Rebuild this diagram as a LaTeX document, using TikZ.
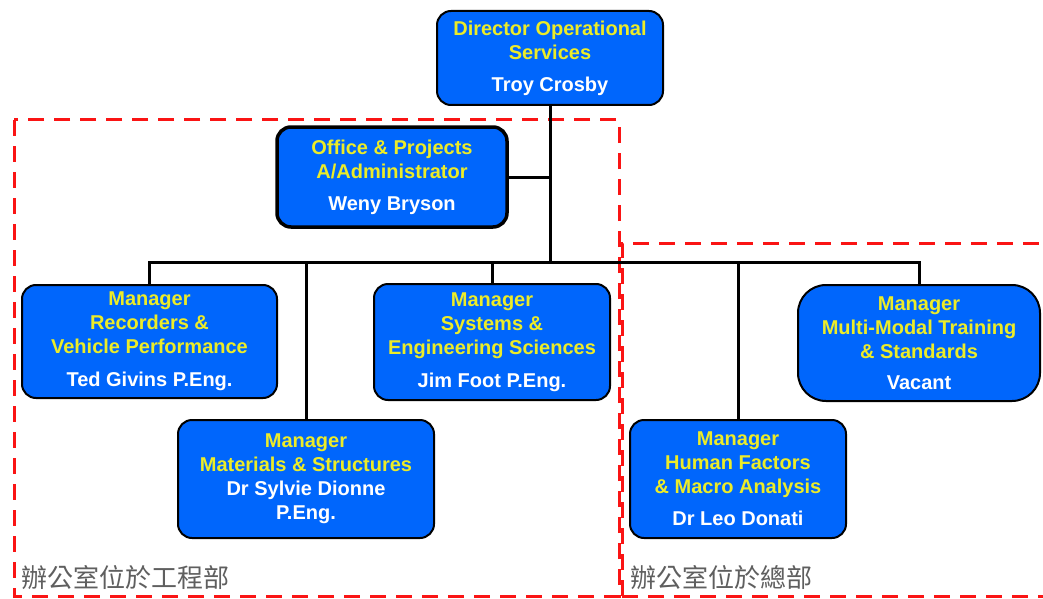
\documentclass[tikz,border=0pt]{standalone}
\usepackage{fontspec}
\setmainfont{Liberation Sans}
\newfontfamily\cjk{Noto Sans CJK TC}
\definecolor{boxblue}{RGB}{0,102,252}
\definecolor{ylw}{RGB}{236,236,40}
\definecolor{lblgray}{RGB}{95,95,95}
\definecolor{dred}{RGB}{250,20,20}
\newcommand{\yl}[1]{\textcolor{ylw}{#1}}
\newcommand{\wh}[1]{\textcolor{white}{#1}}
\begin{document}
\begin{tikzpicture}[x=1pt,y=-1pt,
  orgbox/.style={draw=black, line width=2pt, fill=boxblue, rounded corners=14pt,
    align=center, inner sep=0pt, font=\bfseries\fontsize{20}{24}\selectfont},
  conn/.style={draw=black, line width=3pt, line join=miter},
  region/.style={draw=dred, line width=3pt, dash pattern=on 16pt off 10pt},
  regionlbl/.style={anchor=west, text=lblgray, font=\cjk\fontsize{26}{28}\selectfont, inner sep=0pt}]
\clip (0,0) rectangle (1043,599);
\fill[white] (0,0) rectangle (1043,599);

% dashed regions
\draw[region] (14,120) rectangle (619,596);
\draw[region] (622,596) -- (622,243) -- (1060,243);
\draw[region] (622,596) -- (1060,596);

% boxes
\node[orgbox, minimum width=226pt, minimum height=94pt] (dir) at (550,58)
  {\yl{Director Operational}\\\yl{Services}\\[8pt]\wh{Troy Crosby}};
\node[orgbox, line width=3.5pt, minimum width=230pt, minimum height=100pt] (off) at (392,177)
  {\yl{Office \& Projects}\\\yl{A/Administrator}\\[8pt]\wh{Weny Bryson}};
\node[orgbox, minimum width=255pt, minimum height=113pt] (rec) at (149.5,341.5)
  {\yl{Manager}\\\yl{Recorders \&}\\\yl{Vehicle Performance}\\[9pt]\wh{Ted Givins P.Eng.}};
\node[orgbox, minimum width=236pt, minimum height=116pt] (sys) at (492,342)
  {\yl{Manager}\\\yl{Systems \&}\\\yl{Engineering Sciences}\\[9pt]\wh{Jim Foot P.Eng.}};
\node[orgbox, rounded corners=28pt, minimum width=242pt, minimum height=116pt] (mm) at (919,343)
  {\yl{Manager}\\\yl{Multi-Modal Training}\\\yl{\& Standards}\\[7pt]\wh{Vacant}};
\node[orgbox, minimum width=256pt, minimum height=118pt] (mat) at (306,479)
  {\yl{Manager}\\\yl{Materials \& Structures}\\\wh{Dr Sylvie Dionne}\\\wh{P.Eng.}};
\node[orgbox, minimum width=216pt, minimum height=118pt] (hf) at (738,479)
  {\yl{Manager}\\\yl{Human Factors}\\\yl{\& Macro Analysis}\\[8pt]\wh{Dr Leo Donati}};

% connectors
\coordinate (bus) at (549,262);
\draw[conn] (dir.south) -- (dir.south |- bus);
\draw[conn] (off.east) -- (off.east -| bus);
\draw[conn] (rec.north) |- (bus) -| (mm.north);
\draw[conn] (mat.north) -- (mat.north |- bus);
\draw[conn] (sys.north) -- (sys.north |- bus);
\draw[conn] (hf.north) -- (hf.north |- bus);

% region labels
\node[regionlbl] (lblA) at (21,578) {辦公室位於工程部};
\node[regionlbl] (lblB) at (630,578) {辦公室位於總部};
\end{tikzpicture}
\end{document}
